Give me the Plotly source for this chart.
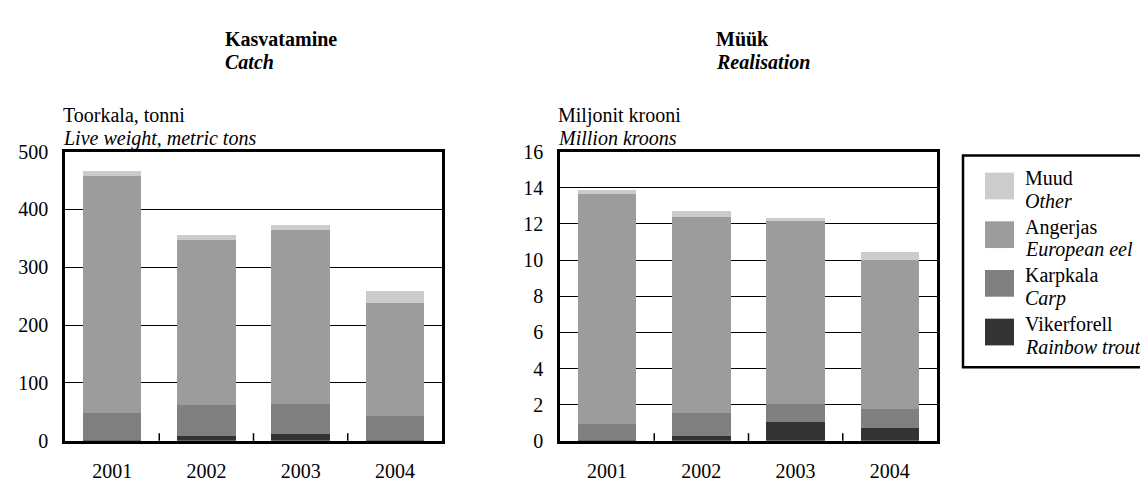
import plotly.graph_objects as go

W, H = 1148, 482
FONT = "Liberation Serif"

years = ["2001", "2002", "2003", "2004"]

series_et = ["Vikerforell", "Karpkala", "Angerjas", "Muud"]
series_en = ["Rainbow trout", "Carp", "European eel", "Other"]
colors = ["#333333", "#808080", "#9c9c9c", "#cccccc"]

# Kasvatamine / Catch, tonnes
catch_trout = [1, 9, 12, 1]
catch_carp = [47, 52.5, 51, 42]
catch_eel = [410, 285.5, 301, 195]
catch_other = [8, 9, 8.5, 21]

# Müük / Realisation, million kroons
sales_trout = [0.05, 0.28, 1.02, 0.70]
sales_carp = [0.86, 1.27, 1.0, 1.06]
sales_eel = [12.76, 10.85, 10.12, 8.22]
sales_other = [0.21, 0.32, 0.21, 0.47]

catch_ticks = [0, 100, 200, 300, 400, 500]
sales_ticks = [0, 2, 4, 6, 8, 10, 12, 14, 16]


def px(x):
    return x / W


def py(y):
    return 1 - y / H


fig = go.Figure()

catch = [catch_trout, catch_carp, catch_eel, catch_other]
sales = [sales_trout, sales_carp, sales_eel, sales_other]

for i in range(4):
    fig.add_trace(go.Bar(x=years, y=catch[i], marker_color=colors[i], marker_line_width=0,
                         width=0.62, showlegend=False, xaxis="x", yaxis="y"))
    fig.add_trace(go.Bar(x=years, y=sales[i], marker_color=colors[i], marker_line_width=0,
                         width=0.62, showlegend=False, xaxis="x2", yaxis="y2"))

tickfont = dict(family=FONT, size=20, color="black")

xax = dict(type="category", showline=True, linewidth=2.5, linecolor="black", mirror=True,
           ticks="", showgrid=False, tickfont=tickfont, ticklabelstandoff=10)
yax = dict(showline=True, linewidth=2.5, linecolor="black", mirror=True, ticks="",
           showgrid=True, gridcolor="black", gridwidth=1, zeroline=False,
           tickfont=tickfont, ticklabelstandoff=10)

fig.update_layout(
    width=W, height=H,
    margin=dict(l=0, r=0, t=0, b=0),
    paper_bgcolor="white", plot_bgcolor="white",
    barmode="stack",
    xaxis=dict(xax, domain=[px(57), px(434)], anchor="y"),
    yaxis=dict(yax, domain=[py(442), py(139)], range=[0, 500], tickvals=catch_ticks, anchor="x"),
    xaxis2=dict(xax, domain=[px(552), px(929)], anchor="y2"),
    yaxis2=dict(yax, domain=[py(442), py(139)], range=[0, 16], tickvals=sales_ticks, anchor="x2"),
    font=dict(family=FONT, size=20, color="black"),
)

# short upward ticks between the year categories
for xr, yr in [("x", "y domain"), ("x2", "y2 domain")]:
    for k in range(len(years) - 1):
        fig.add_shape(type="line", xref=xr, yref=yr, x0=k + 0.5, x1=k + 0.5,
                      y0=0, y1=8 / 303, line=dict(color="black", width=1.5))


def label(text, x, y, size=20):
    fig.add_annotation(text=text, x=px(x), y=py(y), xref="paper", yref="paper",
                       xanchor="left", yanchor="middle", showarrow=False,
                       font=dict(family=FONT, size=size, color="black"))


# titles
label("<b>Kasvatamine</b>", 215, 21)
label("<b><i>Catch</i></b>", 215, 45)
label("<b>Müük</b>", 706, 21)
label("<b><i>Realisation</i></b>", 706, 45)

# axis titles
label("Toorkala, tonni", 53, 101)
label("<i>Live weight, metric tons</i>", 53, 125)
label("Miljonit krooni", 548, 101)
label("<i>Million kroons</i>", 548, 125)

# legend box
fig.add_shape(type="rect", xref="paper", yref="paper",
              x0=px(955), x1=px(1160), y0=py(365), y1=py(143),
              line=dict(color="black", width=2.5), fillcolor="white", layer="above")

order = [3, 2, 1, 0]
for k, i in enumerate(order):
    top = 161 + 51 * k
    fig.add_shape(type="rect", xref="paper", yref="paper",
                  x0=px(977), x1=px(1006), y0=py(top + 28), y1=py(top),
                  line=dict(width=0), fillcolor=colors[i], layer="above")
    label(series_et[i], 1015, top + 6)
    label("<i>" + series_en[i] + "</i>", 1015, top + 30)

fig.write_html("out.html")
